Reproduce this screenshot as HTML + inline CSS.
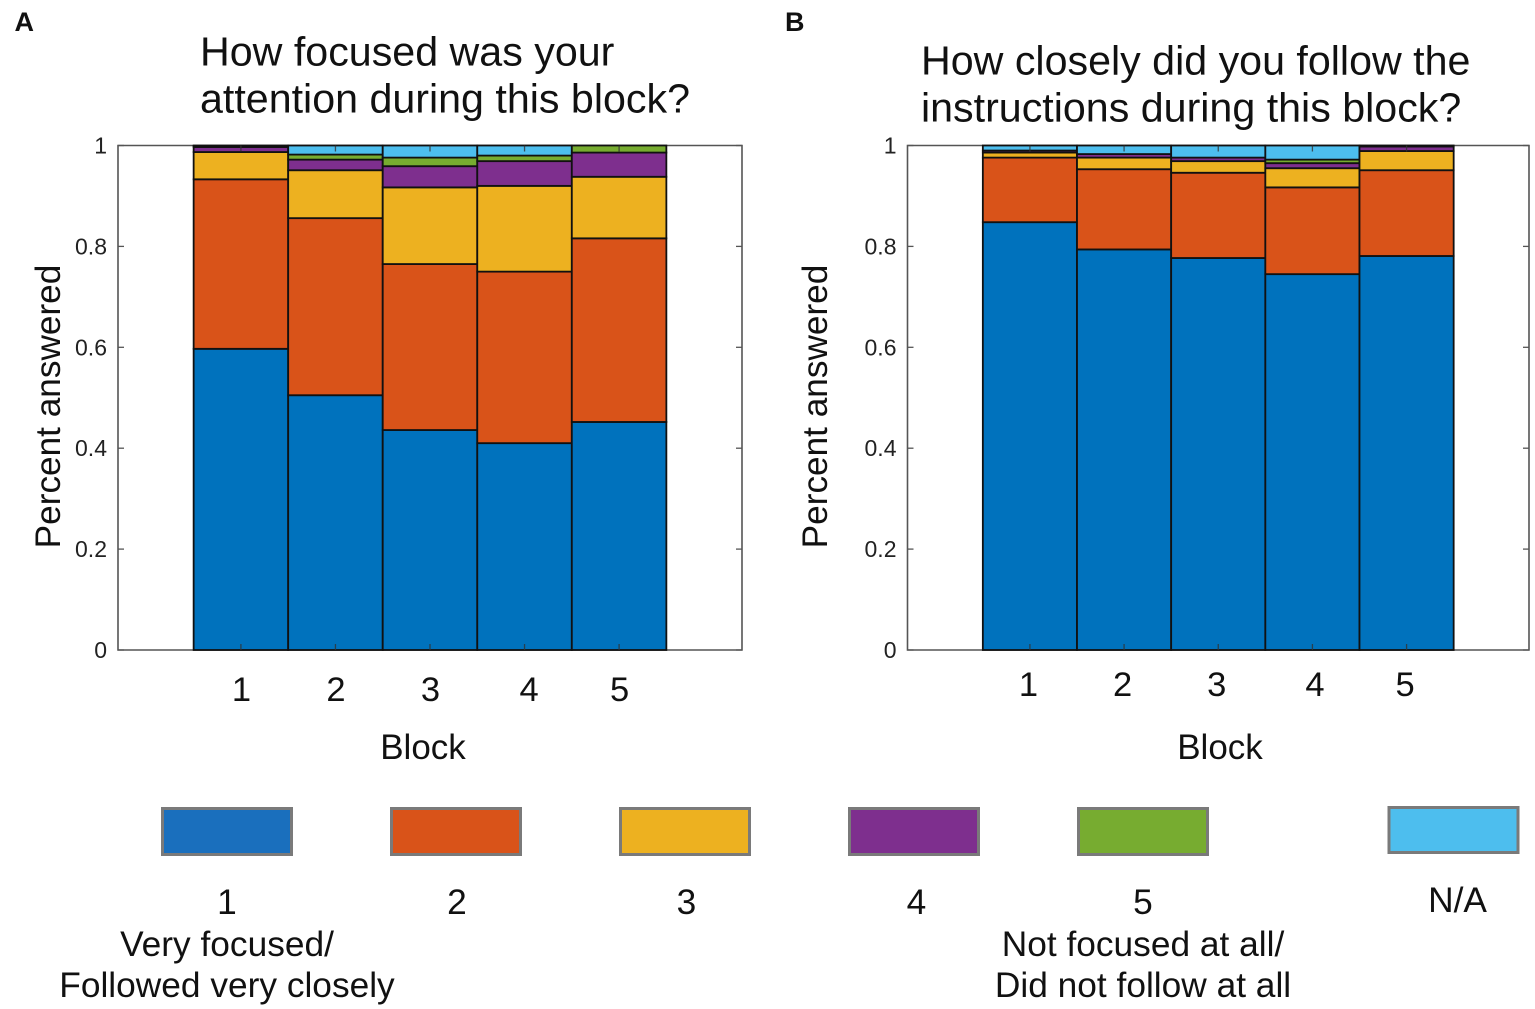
<!DOCTYPE html>
<html lang="en">
<head>
<meta charset="utf-8">
<title>Stacked bar charts of focus and instruction following by block</title>
<style>
html,body{margin:0;padding:0;background:#fff;width:1535px;height:1009px;overflow:hidden}
svg{display:block}
text{font-family:"Liberation Sans",Arial,sans-serif;fill:#111}
</style>
</head>
<body>
<svg id="figure" xmlns="http://www.w3.org/2000/svg" width="1535" height="1009" viewBox="0 0 1535 1009">
  <rect width="1535" height="1009" fill="#fff"/>
  <text x="14.5" y="31" font-size="27" font-weight="bold">A</text>
  <text x="785" y="31" font-size="27" font-weight="bold">B</text>
  <text x="200" y="65.5" font-size="41.2">How focused was your</text>
  <text x="200" y="112.5" font-size="41.2">attention during this block?</text>
  <text x="921" y="74.5" font-size="41.2">How closely did you follow the</text>
  <text x="921" y="121.5" font-size="41.2">instructions during this block?</text>
  <g id="panel-a"></g>
  <g id="panel-b"></g>

  <g font-size="35.3" text-anchor="middle">
    <rect x="162.5" y="808.5" width="129" height="46" fill="#1a6fbd" stroke="#7a7a7a" stroke-width="3"/>
    <rect x="391.5" y="808.5" width="129" height="46" fill="#d95319" stroke="#7a7a7a" stroke-width="3"/>
    <rect x="620.5" y="808.5" width="129" height="46" fill="#edb120" stroke="#7a7a7a" stroke-width="3"/>
    <rect x="849.5" y="808.5" width="129" height="46" fill="#7e2f8e" stroke="#7a7a7a" stroke-width="3"/>
    <rect x="1078.5" y="808.5" width="129" height="46" fill="#77ac30" stroke="#7a7a7a" stroke-width="3"/>
    <rect x="1389" y="807.5" width="129" height="45" fill="#4dbeee" stroke="#7a7a7a" stroke-width="3"/>
    <text x="227" y="914">1</text>
    <text x="457" y="914">2</text>
    <text x="686.5" y="914">3</text>
    <text x="916.5" y="914">4</text>
    <text x="1143" y="914">5</text>
    <text x="1457.5" y="912">N/A</text>
    <text x="227" y="956">Very focused/</text>
    <text x="227" y="997">Followed very closely</text>
    <text x="1143" y="956">Not focused at all/</text>
    <text x="1143" y="997">Did not follow at all</text>
  </g>
</svg>
<script>
const blocks = [1, 2, 3, 4, 5];
const yTickValues = [0, 0.2, 0.4, 0.6, 0.8, 1];
const yTickLabels = ['0', '0.2', '0.4', '0.6', '0.8', '1'];
const seriesNames = ['1', '2', '3', '4', '5', 'na'];
const seriesColors = ['#0072bd', '#d95319', '#edb120', '#7e2f8e', '#77ac30', '#4dbeee'];

const focus1 = [0.597, 0.505, 0.436, 0.410, 0.452];
const focus2 = [0.336, 0.351, 0.329, 0.340, 0.364];
const focus3 = [0.054, 0.095, 0.152, 0.170, 0.122];
const focus4 = [0.010, 0.021, 0.042, 0.049, 0.048];
const focus5 = [0.002, 0.010, 0.017, 0.011, 0.014];
const focusNA = [0.001, 0.018, 0.024, 0.020, 0.000];

const follow1 = [0.848, 0.794, 0.777, 0.745, 0.781];
const follow2 = [0.128, 0.159, 0.169, 0.172, 0.170];
const follow3 = [0.010, 0.023, 0.023, 0.038, 0.038];
const follow4 = [0.004, 0.007, 0.007, 0.010, 0.009];
const follow5 = [0.000, 0.000, 0.000, 0.007, 0.000];
const followNA = [0.010, 0.017, 0.024, 0.028, 0.002];

const NS = 'http://www.w3.org/2000/svg';
function make(parent, tag, attrs, content) {
  const el = document.createElementNS(NS, tag);
  for (const k in attrs) el.setAttribute(k, attrs[k]);
  if (content !== undefined) el.textContent = content;
  parent.appendChild(el);
  return el;
}

function drawPanel(rootId, box, series) {
  const root = document.getElementById(rootId);
  const xMin = -0.3, xMax = 6.3;
  const sx = v => box.left + (v - xMin) / (xMax - xMin) * (box.right - box.left);
  const sy = v => box.bottom - v * (box.bottom - box.top);
  const halfBar = 0.5;

  const frameColor = '#555';
  const frame = make(root, 'path', {
    d: `M${box.left} ${box.top}H${box.right}V${box.bottom}H${box.left}Z`,
    fill: '#fff', stroke: frameColor, 'stroke-width': 1.6
  });
  
  

  blocks.forEach((b, i) => {
    let base = 0;
    series.forEach((vals, s) => {
      const top = base + vals[i];
      if (vals[i] > 0) {
        const seg = make(root, 'rect', {
          x: sx(b - halfBar), y: sy(top),
          width: sx(b + halfBar) - sx(b - halfBar),
          height: sy(base) - sy(top),
          fill: seriesColors[s], stroke: '#111', 'stroke-width': 1.8
        });
        
        
      }
      base = top;
    });

    const tickBottom = make(root, 'line', {
      x1: sx(b), x2: sx(b), y1: box.bottom, y2: box.bottom - 6, stroke: '#333', 'stroke-width': 1.3, opacity: 0.8
    });
    
    
    const tickTop = make(root, 'line', {
      x1: sx(b), x2: sx(b), y1: box.top, y2: box.top + 6, stroke: '#333', 'stroke-width': 1.3, opacity: 0.8
    });
    
    

    const xLabel = make(root, 'text', {
      x: sx(b) + box.xLabelShift + (b === 4 ? 4 : 0), y: box.xLabelY, 'font-size': 34.5, 'text-anchor': 'middle'
    }, String(b));
    
    
  });

  yTickValues.forEach((v, i) => {
    const tl = make(root, 'line', {
      x1: box.left, x2: box.left + 6, y1: sy(v), y2: sy(v), stroke: frameColor, 'stroke-width': 1.3
    });
    
    
    const tr = make(root, 'line', {
      x1: box.right, x2: box.right - 6, y1: sy(v), y2: sy(v), stroke: frameColor, 'stroke-width': 1.3
    });
    
    
    const lab = make(root, 'text', {
      x: box.left - 11, y: sy(v) + 8, 'font-size': 23, 'text-anchor': 'end', style: 'fill:#222'
    }, yTickLabels[i]);
    
    
  });

  const xTitle = make(root, 'text', {
    x: box.xTitleX, y: 759, 'font-size': 35, 'text-anchor': 'middle'
  }, 'Block');
  
  

  const yTitle = make(root, 'text', {
    transform: `translate(${box.yTitleX} 406.5) rotate(-90)`, 'font-size': 35.2, 'text-anchor': 'middle'
  }, 'Percent answered');
  
  
}

drawPanel('panel-a',
  { left: 118, right: 742, top: 145.5, bottom: 650, xLabelShift: 0.5, xLabelY: 701, xTitleX: 423, yTitleX: 60 },
  [focus1, focus2, focus3, focus4, focus5, focusNA]);
drawPanel('panel-b',
  { left: 907.5, right: 1529, top: 145.5, bottom: 650, xLabelShift: -1.5, xLabelY: 696, xTitleX: 1220, yTitleX: 827 },
  [follow1, follow2, follow3, follow4, follow5, followNA]);
</script>
</body>
</html>
